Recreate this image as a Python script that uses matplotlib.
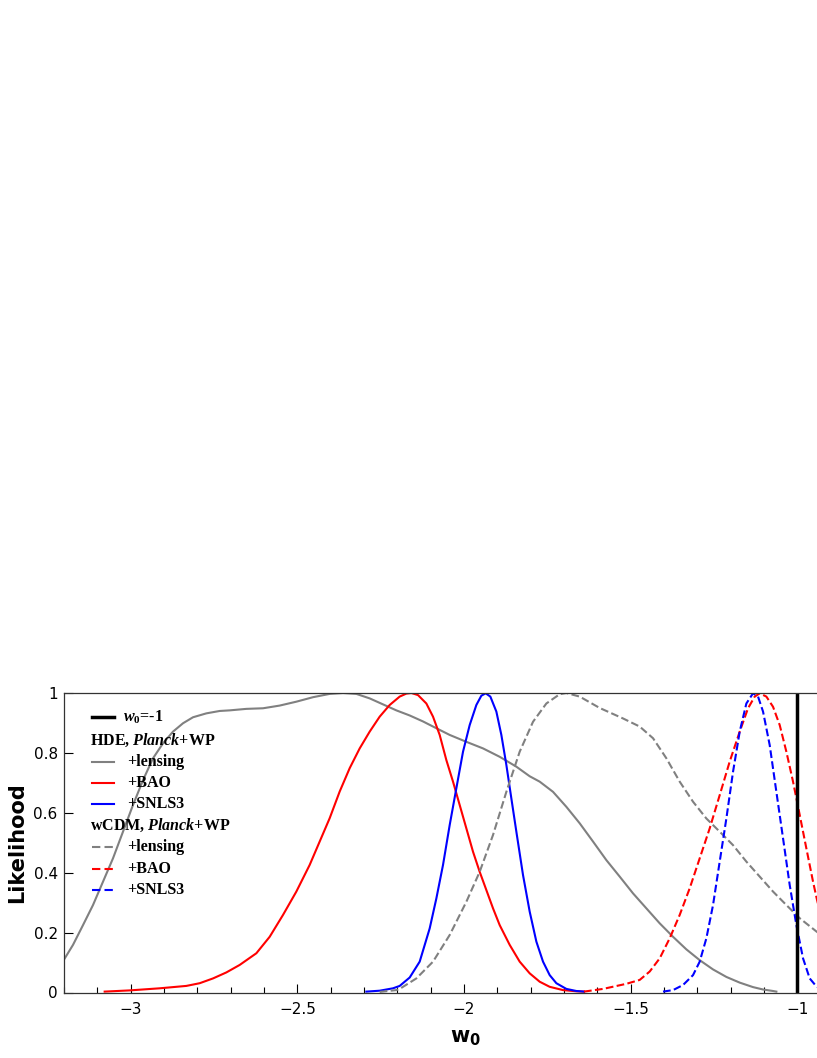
import matplotlib
matplotlib.use("Agg")
import matplotlib.pyplot as plt
from matplotlib.lines import Line2D
import numpy as np

plt.rcParams['mathtext.fontset'] = 'custom'
plt.rcParams['mathtext.rm'] = 'Liberation Serif:bold'
plt.rcParams['mathtext.bf'] = 'Liberation Serif:bold'
plt.rcParams['mathtext.it'] = 'Liberation Serif:italic:bold'
plt.rcParams['mathtext.bfit'] = 'Liberation Serif:italic:bold'

# ---------------- data ----------------
hde_lens_x = [-3.201, -3.173, -3.143, -3.113, -3.083, -3.053, -3.023, -2.993, -2.963,
              -2.933, -2.903, -2.873, -2.843, -2.813, -2.773, -2.733, -2.703, -2.653,
              -2.603, -2.553, -2.503, -2.453, -2.403, -2.363, -2.323, -2.283, -2.243,
              -2.203, -2.163, -2.123, -2.093, -2.043, -1.993, -1.943, -1.893, -1.843,
              -1.803, -1.773, -1.733, -1.693, -1.653, -1.613, -1.573, -1.533, -1.493,
              -1.453, -1.413, -1.373, -1.333, -1.293, -1.253, -1.213, -1.173, -1.133,
              -1.103, -1.073, -1.063]
hde_lens_y = [0.108, 0.159, 0.225, 0.292, 0.370, 0.448, 0.537, 0.626, 0.709,
              0.782, 0.832, 0.871, 0.899, 0.919, 0.932, 0.940, 0.942, 0.947,
              0.949, 0.958, 0.971, 0.986, 0.997, 1.000, 0.997, 0.982, 0.962,
              0.942, 0.925, 0.905, 0.888, 0.860, 0.837, 0.815, 0.787, 0.754,
              0.722, 0.704, 0.670, 0.620, 0.565, 0.504, 0.442, 0.387, 0.331,
              0.281, 0.231, 0.186, 0.144, 0.108, 0.077, 0.052, 0.033, 0.018,
              0.010, 0.005, 0.003]

hde_bao_x = [-3.078, -3.003, -2.913, -2.833, -2.793, -2.753, -2.713, -2.673, -2.623,
             -2.583, -2.543, -2.503, -2.463, -2.433, -2.403, -2.373, -2.343, -2.313,
             -2.283, -2.253, -2.223, -2.193, -2.173, -2.158, -2.138, -2.113, -2.093,
             -2.073, -2.053, -2.033, -2.013, -1.993, -1.973, -1.953, -1.933, -1.913,
             -1.893, -1.863, -1.833, -1.803, -1.773, -1.743, -1.703, -1.663, -1.640]
hde_bao_y = [0.003, 0.007, 0.014, 0.022, 0.031, 0.047, 0.067, 0.092, 0.131,
             0.186, 0.259, 0.337, 0.426, 0.504, 0.582, 0.671, 0.749, 0.815,
             0.871, 0.921, 0.960, 0.988, 0.998, 1.000, 0.993, 0.965, 0.921,
             0.860, 0.776, 0.704, 0.626, 0.548, 0.470, 0.403, 0.342, 0.281,
             0.225, 0.159, 0.103, 0.064, 0.036, 0.019, 0.008, 0.004, 0.003]

hde_sn_x = [-2.293, -2.253, -2.213, -2.193, -2.163, -2.133, -2.103, -2.083, -2.063,
            -2.043, -2.023, -2.003, -1.983, -1.963, -1.948, -1.935, -1.921, -1.903,
            -1.888, -1.873, -1.858, -1.843, -1.823, -1.803, -1.783, -1.763, -1.743,
            -1.723, -1.693, -1.663, -1.640]
hde_sn_y = [0.003, 0.006, 0.014, 0.022, 0.050, 0.103, 0.214, 0.314, 0.426,
            0.559, 0.682, 0.804, 0.893, 0.960, 0.991, 0.999, 0.988, 0.938,
            0.860, 0.760, 0.648, 0.537, 0.392, 0.270, 0.170, 0.103, 0.058,
            0.031, 0.012, 0.005, 0.003]

w_lens_x = [-2.253, -2.203, -2.193, -2.143, -2.093, -2.043, -1.993, -1.953, -1.913,
            -1.873, -1.833, -1.793, -1.753, -1.713, -1.693, -1.653, -1.593, -1.523,
            -1.473, -1.433, -1.393, -1.353, -1.313, -1.273, -1.233, -1.193, -1.153,
            -1.113, -1.073, -1.033, -0.993, -0.942, -0.900]
w_lens_y = [0.002, 0.008, 0.012, 0.047, 0.103, 0.192, 0.303, 0.403, 0.526,
            0.670, 0.804, 0.904, 0.965, 0.996, 1.000, 0.988, 0.950, 0.915,
            0.888, 0.849, 0.782, 0.704, 0.637, 0.581, 0.537, 0.492, 0.437,
            0.387, 0.337, 0.292, 0.248, 0.203, 0.170]

w_bao_x = [-1.640, -1.583, -1.513, -1.473, -1.443, -1.413, -1.383, -1.353, -1.323,
           -1.293, -1.263, -1.233, -1.203, -1.173, -1.148, -1.128, -1.113, -1.093,
           -1.073, -1.053, -1.033, -1.013, -0.993, -0.973, -0.953, -0.942, -0.920]
w_bao_y = [0.003, 0.012, 0.029, 0.042, 0.070, 0.114, 0.181, 0.259, 0.348,
           0.448, 0.548, 0.659, 0.771, 0.871, 0.949, 0.988, 0.999, 0.988,
           0.954, 0.893, 0.804, 0.704, 0.593, 0.481, 0.370, 0.314, 0.210]

w_sn_x = [-1.403, -1.373, -1.343, -1.313, -1.293, -1.273, -1.253, -1.233, -1.213,
          -1.193, -1.173, -1.153, -1.133, -1.118, -1.103, -1.083, -1.063, -1.043,
          -1.023, -1.003, -0.983, -0.963, -0.942, -0.910]
w_sn_y = [0.003, 0.008, 0.025, 0.058, 0.103, 0.181, 0.292, 0.437, 0.581,
          0.737, 0.871, 0.965, 0.999, 0.988, 0.938, 0.826, 0.670, 0.515,
          0.359, 0.225, 0.114, 0.047, 0.019, 0.005]

w_lambda = -1.0

xticks = [-3.0, -2.5, -2.0, -1.5, -1.0]
xticklabels = ['\u22123', '\u22122.5', '\u22122', '\u22121.5', '\u22121']
yticks = [0, 0.2, 0.4, 0.6, 0.8, 1.0]
yticklabels = ['0', '0.2', '0.4', '0.6', '0.8', '1']

# ---------------- figure ----------------
W, H = 817, 1058
fig = plt.figure(figsize=(W / 100, H / 100), dpi=100)
ax_left_px, ax_top_px, ax_bot_px = 64.0, 693.0, 992.5
x_lo, x_hi = -3.2, -0.9
px_per_unit = (797.7 - 131.0) / 2.0
ax_w_px = (x_hi - x_lo) * px_per_unit
ax = fig.add_axes([ax_left_px / W, 1 - ax_bot_px / H, ax_w_px / W, (ax_bot_px - ax_top_px) / H])

lw = 1.5
ax.plot(hde_lens_x, hde_lens_y, color='gray', lw=lw)
ax.plot(hde_bao_x, hde_bao_y, color='red', lw=lw)
ax.plot(hde_sn_x, hde_sn_y, color='blue', lw=lw)
ax.plot(w_lens_x, w_lens_y, color='gray', lw=lw, ls='--')
ax.plot(w_bao_x, w_bao_y, color='red', lw=lw, ls='--')
ax.plot(w_sn_x, w_sn_y, color='blue', lw=lw, ls='--')
ax.axvline(w_lambda, color='black', lw=2.5)

ax.set_xlim(x_lo, x_hi)
ax.set_ylim(0, 1)
ax.set_xticks(xticks)
ax.set_xticklabels(xticklabels)
ax.set_xticks(np.round(np.arange(-3.2, -0.89, 0.1), 2), minor=True)
ax.set_yticks(yticks)
ax.set_yticklabels(yticklabels)
ax.tick_params(axis='x', which='major', direction='in', length=6.5, width=0.8, pad=7, labelsize=11)
ax.tick_params(axis='x', which='minor', direction='in', length=4, width=0.8)
ax.tick_params(axis='y', which='major', direction='in', length=6.5, width=0.8, pad=4.5, labelsize=11)
ax.tick_params(top=False, right=False)
for s in ax.spines.values():
    s.set_linewidth(0.9)
    s.set_color('#333333')

ax.set_ylabel('Likelihood', fontsize=15, fontweight='bold')
ax.yaxis.set_label_coords((27 - ax_left_px) / ax_w_px, 0.5)
ax.set_xlabel(r'$\mathbf{w_0}$', fontsize=15, math_fontfamily='dejavusans')
ax.xaxis.set_label_coords((465 - ax_left_px) / ax_w_px, -0.12)

# ---------------- manual legend ----------------
def fx(px):
    return (px - ax_left_px) / ax_w_px

def fy(py):
    return (ax_bot_px - py) / (ax_bot_px - ax_top_px)

lf = dict(fontsize=11.5, fontweight='bold', family='Liberation Serif',
          va='center', ha='left', transform=ax.transAxes)
rows = [
    ('line', 'black', '-', 2.5, r'$\mathbfit{w}_\mathbf{0}$=-1', 717.3),
    ('head', None, None, None, r'HDE, $\mathbfit{Planck}$+WP', 740.0),
    ('line', 'gray', '-', lw, '+lensing', 761.7),
    ('line', 'red', '-', lw, '+BAO', 782.7),
    ('line', 'blue', '-', lw, '+SNLS3', 804.0),
    ('head', None, None, None, r'wCDM, $\mathbfit{Planck}$+WP', 825.7),
    ('line', 'gray', '--', lw, '+lensing', 847.0),
    ('line', 'red', '--', lw, '+BAO', 868.7),
    ('line', 'blue', '--', lw, '+SNLS3', 890.0),
]
for kind, c, ls, w, label, py in rows:
    if kind == 'head':
        ax.text(fx(90), fy(py), label, **lf)
        continue
    ln = Line2D([fx(92), fx(113.5)], [fy(py), fy(py)], color=c, lw=w,
                transform=ax.transAxes)
    if ls == '--':
        ln.set_dashes((4, 2))
    ax.add_line(ln)
    tx = 123.3 if c == 'black' else 126.7
    ax.text(fx(tx), fy(py), label, **lf)

fig.savefig('out.png', dpi=100)
